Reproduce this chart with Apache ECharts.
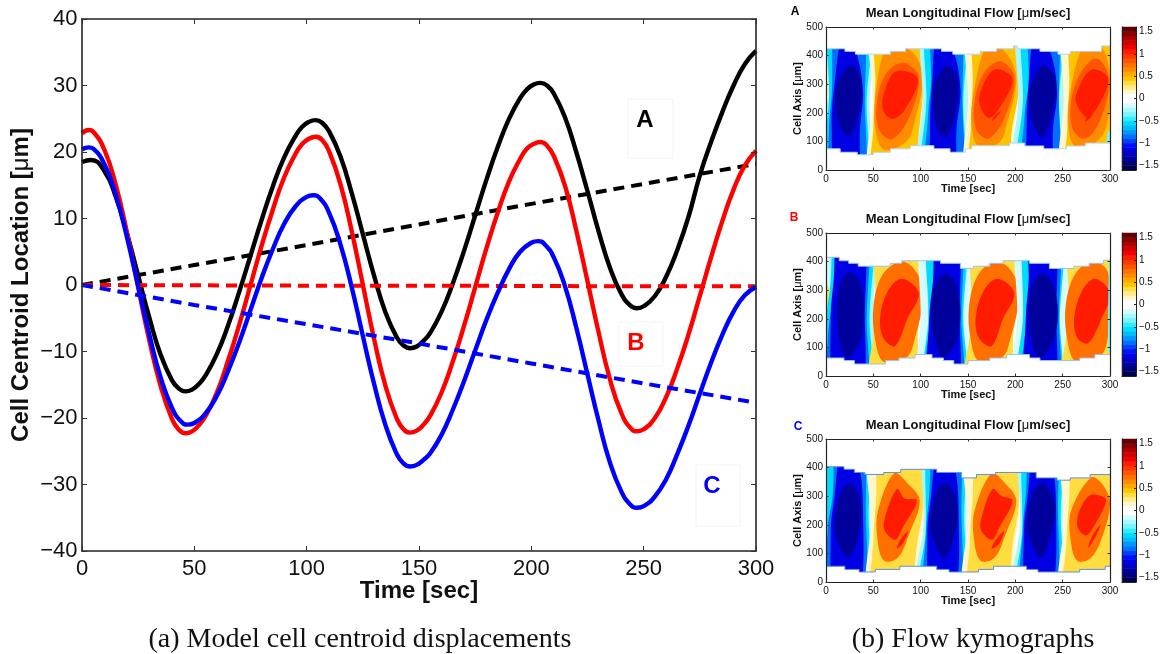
<!DOCTYPE html>
<html><head><meta charset="utf-8">
<style>html,body{margin:0;padding:0;background:#fff}#c{width:1162px;height:654px}</style>
<script src="https://cdn.jsdelivr.net/npm/echarts@6/dist/echarts.min.js"></script>
</head><body><div id="c"></div>
<script>
// ---------- main chart values ----------
const timeTicks=[0,50,100,150,200,250,300];
const locationTicks=[-40,-30,-20,-10,0,10,20,30,40];
const blackSolid=[[0,18.5],[4,18.8],[10,17.1],[15,13.3],[20,7.75],[25,1.4],[30,-4.95],[35,-10.5],[40,-14.3],[43,-15.55],[46,-16],[49,-15.73],[52,-14.9],[55,-13.6],[60,-10.4],[65,-6.1],[70,-1],[75,4.4],[80,9.85],[85,14.9],[90,19.2],[95,22.4],[98,23.8],[101,24.53],[104,24.8],[107,24.37],[110,23.1],[115,19.35],[120,13.9],[125,7.65],[130,1.4],[135,-4.05],[140,-7.8],[143,-9.07],[146,-9.5],[149,-9.24],[152,-8.4],[155,-7.2],[160,-4.05],[165,0.2],[170,5.1],[175,10.45],[180,15.8],[185,20.7],[190,24.95],[195,28.1],[198,29.4],[201,30.14],[204,30.4],[207,30],[210,28.8],[215,25.2],[220,20],[225,14.1],[230,8],[235,2.6],[240,-1.3],[244,-3.08],[247,-3.5],[250,-3.2],[255,-1.65],[260,1.25],[265,5.3],[270,10.3],[275,16.5],[280,21.5],[285,26],[290,30],[295,33.2],[300,35.2]];
const redSolid=[[0,22.8],[3,23.3],[5,23.05],[10,20.3],[15,15.1],[20,7.9],[25,-0.35],[30,-8.4],[35,-15.2],[40,-20.1],[43,-21.73],[46,-22.3],[49,-22],[52,-21.1],[55,-19.7],[60,-16.2],[65,-11.4],[70,-5.95],[75,0],[80,5.95],[85,11.4],[90,16.2],[95,19.7],[98,21.2],[101,22],[104,22.3],[107,21.75],[110,20.1],[115,15.2],[120,8.2],[125,0.05],[130,-8.1],[135,-15.1],[140,-20],[143,-21.65],[146,-22.2],[149,-21.9],[152,-21],[155,-19.65],[160,-16.2],[165,-11.55],[170,-6.2],[175,-0.35],[180,5.5],[185,10.85],[190,15.5],[195,18.95],[198,20.5],[201,21.2],[204,21.5],[207,20.95],[210,19.4],[215,14.9],[220,8.2],[225,0.55],[230,-7.2],[235,-14.2],[240,-19.2],[244,-21.45],[247,-22],[250,-21.7],[255,-20],[260,-16.85],[265,-12.5],[270,-7.4],[275,-1.65],[280,4.15],[285,9.6],[290,14.35],[295,17.95],[300,20.2]];
const blueSolid=[[0,20.4],[3,20.7],[5,20.5],[10,18.15],[15,13.6],[20,7.2],[25,-0.15],[30,-7.5],[35,-13.9],[40,-18.45],[44,-20.5],[47,-21],[50,-20.75],[55,-19.3],[60,-16.7],[65,-12.95],[70,-8.6],[75,-3.75],[80,1.1],[85,5.45],[90,9.2],[95,11.8],[100,13.25],[103,13.5],[106,13],[110,10.85],[115,6.15],[120,-0.25],[125,-7.65],[130,-14.85],[135,-21],[140,-25.35],[143,-26.8],[146,-27.3],[149,-27.05],[152,-26.3],[155,-25.3],[160,-22.55],[165,-18.8],[170,-14.5],[175,-9.85],[180,-5.25],[185,-1.2],[190,2.35],[195,5],[200,6.35],[203,6.6],[206,6.1],[210,4.15],[215,-0.2],[220,-6.4],[225,-13.45],[230,-20.5],[235,-26.7],[240,-31],[244,-33],[247,-33.5],[250,-33.25],[255,-31.8],[260,-29.2],[265,-25.4],[270,-21.1],[275,-16.35],[280,-11.7],[285,-7.5],[290,-4],[295,-1.55],[300,-0.3]];
const blackDashed=[[0,0],[50,3],[100,6],[150,9.1],[200,12.2],[250,15.2],[300,18.2]];
const redDashed=[[0,0],[50,-0.05],[100,-0.1],[150,-0.1],[200,-0.15],[250,-0.2],[300,-0.2]];
const blueDashed=[[0,0],[50,-3],[100,-5.9],[150,-8.8],[200,-11.8],[250,-14.8],[300,-17.7]];

// ---------- colour bar ----------
const barTicks=[-1.5,-1,-0.5,0,0.5,1,1.5];
const barValues=[-1.55,-1.45,-1.35,-1.25,-1.15,-1.05,-0.95,-0.85,-0.75,-0.65,-0.55,-0.45,-0.35,-0.25,-0.15,-0.05,0.05,0.15,0.25,0.35,0.45,0.55,0.65,0.75,0.85,0.95,1.05,1.15,1.25,1.35,1.45,1.55];
const barColors=['#000050','#000078','#00009c','#0000c0','#0000e4','#0010ff','#0040ff','#0070ff','#0098ff','#00bcff','#00dcff','#30ecff','#78f4ff','#a8f8ff','#d4fcff','#ffffff','#ffffff','#fff6cc','#ffeb8c','#ffdc40','#ffc400','#ffa800','#ff8c00','#ff7000','#ff5400','#ff3800','#ff1c00','#f00000','#d00000','#b00000','#880000','#600000'];

// ---------- kymograph A: envelope steps and contour rings [level, [[t,y],...]] ----------
const A_top=[[0,424],[20,424],[20,415],[31,415],[31,405],[68,405],[68,415],[84,415],[84,424],[122,424],[122,415],[134,415],[134,405],[163,405],[163,415],[180,415],[180,424],[198,424],[198,434],[202,434],[202,424],[226,424],[226,415],[245,415],[245,405],[258,405],[258,415],[291,415],[291,434],[300,434]];
const A_bottom=[[0,74],[15,74],[15,62],[33,62],[33,53],[50,53],[50,62],[68,62],[68,74],[89,74],[89,85],[114,85],[114,74],[131,74],[131,62],[147,62],[147,74],[154,74],[154,85],[194,85],[194,94],[210,94],[210,84],[230,84],[230,74],[254,74],[254,84],[274,84],[274,94],[300,94]];
const A_rings=[
[0.15,[[0,560],[4,560],[4,350],[1,240],[0,220]]],
[-0.25,[[2,560],[48,560],[46,240],[44,-60],[0,-60],[0,208],[5,300]]],
[-0.55,[[6,560],[45,560],[43,240],[41,-60],[0,-60],[0,130],[3,240]]],
[-0.85,[[12,560],[38,560],[41,240],[38,-60],[6,-60],[3,130],[6,260]]],
[-1.15,[[18,470],[31,420],[39,280],[36,150],[32,-60],[12,-60],[6,160],[9,300]]],
[-1.35,[[27,365],[36,330],[38,280],[34,190],[25,120],[15,150],[10,230],[11,290],[18,340]]],
[0.15,[[50,560],[104,560],[106,340],[101,240],[96,-60],[47,-60],[49,240]]],
[0.45,[[55,560],[102,560],[103,300],[98,130],[92,-60],[50,-60],[50,150],[52,300]]],
[0.65,[[66,440],[92,410],[102,320],[93,160],[85,100],[62,70],[53,125],[52,250]]],
[0.85,[[82,375],[98,325],[88,185],[70,108],[56,140],[54,240],[64,340]]],
[1.05,[[74,345],[97,320],[83,210],[70,178],[61,205],[60,255]]],
[-0.25,[[104,560],[150,560],[150,240],[147,-60],[99,-60],[102,240]]],
[-0.55,[[108,560],[146,560],[145,240],[143,-60],[103,-60],[106,240]]],
[-0.85,[[113,560],[140,560],[144,240],[141,-60],[107,-60],[108,200],[111,300]]],
[-1.15,[[118,470],[134,420],[142,280],[138,150],[134,-60],[113,-60],[110,160],[112,300]]],
[-1.35,[[128,365],[138,330],[140,285],[136,190],[126,115],[117,150],[113,230],[114,290],[121,340]]],
[0.15,[[152,560],[206,560],[206,300],[198,130],[195,-60],[149,-60],[150,240]]],
[0.45,[[158,560],[200,560],[204,300],[196,130],[191,-60],[152,-60],[153,150],[155,300]]],
[0.65,[[171,440],[190,410],[201,320],[191,160],[184,100],[164,75],[155,125],[155,250]]],
[0.85,[[184,380],[199,325],[189,185],[172,110],[159,140],[157,240],[167,340]]],
[1.05,[[177,350],[197,320],[183,215],[172,182],[164,215],[162,260]]],
[1.05,[[185,205],[180,185],[175,170],[178,190]]],
[-0.25,[[205,560],[252,560],[252,240],[250,-60],[199,-60],[203,240]]],
[-0.55,[[210,560],[248,560],[246,240],[245,-60],[203,-60],[208,240]]],
[-0.85,[[216,560],[242,560],[246,240],[243,-60],[209,-60],[210,200],[214,300]]],
[-1.15,[[221,470],[236,420],[244,280],[240,150],[236,-60],[215,-60],[212,160],[214,300]]],
[-1.35,[[230,365],[241,330],[243,285],[238,190],[229,115],[220,150],[215,230],[216,290],[223,340]]],
[0.15,[[253,560],[300,560],[300,-60],[250,-60],[251,240]]],
[0.45,[[260,560],[300,560],[300,-60],[255,-60],[255,150],[257,300]]],
[0.65,[[273,440],[292,425],[300,320],[297,160],[286,100],[266,75],[257,125],[257,250]]],
[0.85,[[286,390],[299,320],[291,185],[275,110],[261,140],[259,240],[269,340]]],
[1.05,[[280,350],[298,320],[286,215],[275,188],[267,215],[264,260]]],
[1.05,[[286,228],[280,185],[274,170],[277,200]]],
[-0.35,[[298,135],[300,135],[300,92],[297,92]]]
];

// ---------- kymograph B ----------
const B_top=[[0,415],[14,415],[14,403],[24,403],[24,394],[34,394],[34,384],[68,384],[68,394],[80,394],[80,403],[121,403],[121,394],[142,394],[142,376],[156,376],[156,384],[173,384],[173,394],[187,394],[187,403],[215,403],[215,394],[236,394],[236,376],[262,376],[262,384],[278,384],[278,394],[293,394],[293,405],[300,405]];
const B_bottom=[[0,63],[19,63],[19,54],[30,54],[30,42],[63,42],[63,54],[77,54],[77,63],[94,63],[94,75],[112,75],[112,63],[124,63],[124,54],[135,54],[135,42],[150,42],[150,54],[173,54],[173,63],[191,63],[191,75],[215,75],[215,63],[226,63],[226,54],[268,54],[268,63],[284,63],[284,75],[300,75]];
const B_rings=[
[-0.15,[[0,560],[12,560],[8,300],[3,200],[0,180]]],
[0.35,[[0,320],[3,310],[4,280],[2,250],[0,240]]],
[-0.25,[[12,560],[51,560],[50,220],[52,-60],[0,-60],[0,180],[3,260]]],
[-0.55,[[14,560],[48,560],[46,200],[46,-60],[0,-60],[0,190],[4,300]]],
[-0.85,[[16,560],[43,560],[43,200],[41,-60],[4,-60],[2,130],[8,290]]],
[-1.15,[[15,560],[39,560],[41,220],[37,-60],[10,-60],[5,200],[8,330]]],
[-1.35,[[26,362],[36,325],[40,220],[35,115],[23,65],[16,100],[12,200],[13,290],[19,348]]],
[0.35,[[52,560],[102,560],[103,300],[97,150],[96,-60],[47,-60],[50,150],[52,300]]],
[0.75,[[78,400],[93,375],[103,290],[93,120],[85,65],[61,50],[52,125],[50,240],[59,350]]],
[1.05,[[80,340],[98,290],[86,200],[73,105],[61,130],[57,200],[65,295]]],
[-0.15,[[104,560],[152,560],[152,220],[150,-60],[100,-60],[100,200]]],
[-0.55,[[110,560],[146,560],[145,200],[146,-60],[105,-60],[108,200]]],
[-0.85,[[117,560],[142,560],[143,200],[142,-60],[107,-60],[110,200],[113,310]]],
[-1.15,[[120,560],[139,560],[141,220],[138,-60],[110,-60],[109,200],[113,330]]],
[-1.35,[[127,358],[137,325],[142,220],[137,115],[124,65],[117,100],[111,200],[113,290],[120,345]]],
[0.35,[[155,560],[207,560],[206,300],[198,150],[193,-60],[147,-60],[152,150],[153,300]]],
[0.75,[[178,400],[194,375],[204,290],[194,120],[186,65],[162,50],[153,125],[151,240],[160,350]]],
[1.05,[[181,340],[199,290],[187,200],[175,105],[162,130],[158,200],[166,295]]],
[-0.15,[[205,560],[254,560],[254,220],[252,-60],[199,-60],[202,200]]],
[-0.55,[[212,560],[248,560],[247,200],[246,-60],[204,-60],[208,200]]],
[-0.85,[[218,560],[245,560],[246,200],[244,-60],[209,-60],[212,200],[215,310]]],
[-1.15,[[216,560],[241,560],[243,220],[240,-60],[212,-60],[211,200],[214,330]]],
[-1.35,[[228,358],[239,325],[245,220],[239,115],[226,65],[219,100],[214,200],[216,290],[222,345]]],
[0.35,[[256,560],[300,560],[300,-60],[249,-60],[254,150],[256,300]]],
[0.75,[[280,400],[296,375],[300,290],[297,120],[288,65],[264,50],[255,125],[253,240],[262,350]]],
[1.05,[[284,340],[300,290],[291,200],[277,115],[266,130],[262,200],[270,295]]],
[-0.35,[[299,405],[300,405],[300,85],[298,85]]]
];

// ---------- kymograph C ----------
const C_top=[[0,403],[19,403],[19,394],[30,394],[30,383],[41,383],[41,376],[61,376],[61,383],[79,383],[79,394],[117,394],[117,383],[143,383],[143,364],[159,364],[159,376],[179,376],[179,383],[222,383],[222,364],[244,364],[244,356],[258,356],[258,364],[279,364],[279,376],[300,376]];
const C_bottom=[[0,55],[20,55],[20,44],[35,44],[35,35],[52,35],[52,44],[78,44],[78,55],[117,55],[117,44],[130,44],[130,35],[161,35],[161,44],[177,44],[177,55],[212,55],[212,44],[224,44],[224,35],[268,35],[268,44],[295,44],[295,55],[300,55]];
const C_rings=[
[0.15,[[0,560],[5,560],[4,330],[2,240],[0,220]]],
[0.35,[[0,325],[2,310],[2,280],[0,260]]],
[-0.25,[[4,560],[50,560],[47,200],[45,-60],[0,-60],[0,200]]],
[-0.55,[[8,560],[43,560],[45,230],[43,-60],[0,-60],[0,170]]],
[-0.85,[[13,560],[37,560],[42,250],[38,-60],[3,-60],[2,190],[7,300]]],
[-1.15,[[18,500],[33,430],[39,260],[34,-60],[10,-60],[5,170],[9,300]]],
[-1.35,[[27,345],[37,270],[34,160],[24,85],[13,135],[9,210],[17,322]]],
[0.15,[[48,560],[105,560],[107,300],[100,150],[93,-60],[46,-60],[47,200]]],
[0.35,[[58,560],[97,560],[103,290],[97,150],[84,-60],[50,-60],[50,140],[53,300]]],
[0.75,[[72,380],[86,345],[99,285],[88,170],[76,85],[61,75],[54,160],[55,250]]],
[1.05,[[75,325],[83,292],[96,285],[81,190],[73,148],[62,180],[62,222]]],
[1.05,[[87,177],[81,135],[75,117],[79,150]]],
[-0.25,[[106,560],[150,560],[148,200],[146,-60],[97,-60],[103,200]]],
[-0.55,[[111,560],[145,560],[146,230],[144,-60],[100,-60],[105,170]]],
[-0.85,[[116,560],[139,560],[143,250],[139,-60],[106,-60],[106,190],[109,300]]],
[-1.15,[[120,500],[134,430],[140,260],[135,-60],[112,-60],[107,170],[111,300]]],
[-1.35,[[128,345],[139,270],[135,160],[125,85],[115,135],[110,210],[118,322]]],
[0.15,[[150,560],[206,560],[208,300],[200,150],[196,-60],[147,-60],[149,200]]],
[0.35,[[160,560],[199,560],[204,290],[198,150],[186,-60],[152,-60],[152,140],[155,300]]],
[0.75,[[175,380],[189,345],[201,285],[190,170],[178,85],[163,75],[156,160],[157,250]]],
[1.05,[[176,325],[185,302],[197,285],[183,190],[175,148],[164,180],[164,222]]],
[1.05,[[188,177],[183,135],[175,117],[180,150]]],
[-0.25,[[207,560],[252,560],[250,200],[248,-60],[199,-60],[205,200]]],
[-0.55,[[212,560],[247,560],[248,230],[246,-60],[203,-60],[207,170]]],
[-0.85,[[218,560],[241,560],[245,250],[241,-60],[208,-60],[208,190],[211,300]]],
[-1.15,[[222,500],[237,430],[243,260],[237,-60],[213,-60],[209,170],[213,300]]],
[-1.35,[[230,345],[242,270],[237,160],[227,85],[217,135],[212,210],[220,322]]],
[0.15,[[252,560],[300,560],[300,-60],[249,-60],[251,200]]],
[0.35,[[262,560],[300,560],[300,-60],[254,-60],[254,140],[257,300]]],
[0.75,[[280,365],[291,345],[300,280],[293,170],[280,85],[265,75],[258,160],[259,250]]],
[1.05,[[278,302],[290,302],[296,285],[284,200],[275,163],[266,190],[267,242]]],
[1.05,[[290,200],[285,160],[277,120],[281,160]]]
];

// ---------- layout ----------
const panels=[
 {top:27,h:143,rings:A_rings,upper:A_top,lower:A_bottom,edge:'#b8d4f0'},
 {top:233,h:143,rings:B_rings,upper:B_top,lower:B_bottom,edge:'#9cc0ea'},
 {top:439,h:143,rings:C_rings,upper:C_top,lower:C_bottom,edge:'#5f8fe0'}
];
const minus=v=>String(v).replace('-','\u2212');
const levelColor=v=>{let b=0;barValues.forEach((x,i)=>{if(Math.abs(x-v)<Math.abs(barValues[b]-v))b=i});return barColors[b]};
const FONT='"Liberation Sans",Helvetica,Arial,sans-serif';
const SERIF='"Liberation Serif",serif';
const black='#111';

const grid=[{left:82,top:19,width:674,height:532,outerBoundsMode:'none'}];
const xAxis=[],yAxis=[],series=[];
function box(gi,xmin,xmax,xticks,ymin,ymax,yticks,font,tick,xname,yname,nameFont,xgap,ygap,lw,xm,ym){
 const line={show:true,onZero:false,lineStyle:{color:'#222',width:lw}};
 const tk=v=>({show:true,inside:true,length:tick,lineStyle:{color:'#333',width:1},customValues:v});
 xAxis.push({gridIndex:gi,type:'value',min:xmin,max:xmax,z:10,position:'bottom',axisLine:line,axisTick:tk(xticks),splitLine:{show:false},
  axisLabel:{show:true,customValues:xticks,color:black,fontFamily:FONT,fontSize:font,margin:xm,hideOverlap:false,showMinLabel:true,showMaxLabel:true},
  name:xname,nameLocation:'middle',nameGap:xgap,nameMoveOverlap:false,nameTextStyle:{color:black,fontFamily:FONT,fontWeight:'bold',fontSize:nameFont}});
 xAxis.push({gridIndex:gi,type:'value',min:xmin,max:xmax,z:10,position:'top',axisLine:line,axisTick:tk(xticks),axisLabel:{show:false},splitLine:{show:false}});
 yAxis.push({gridIndex:gi,type:'value',min:ymin,max:ymax,z:10,position:'left',axisLine:line,axisTick:tk(yticks),splitLine:{show:false},
  axisLabel:{show:true,customValues:yticks,formatter:minus,color:black,fontFamily:FONT,fontSize:font,margin:ym,showMinLabel:true,showMaxLabel:true},
  name:yname,nameLocation:'middle',nameGap:ygap,nameMoveOverlap:false,nameTextStyle:{color:black,fontFamily:FONT,fontWeight:'bold',fontSize:nameFont,
   rich:{m:{fontFamily:FONT,fontWeight:'normal',fontSize:nameFont,color:black}}}});
 yAxis.push({gridIndex:gi,type:'value',min:ymin,max:ymax,z:10,position:'right',axisLine:line,axisTick:tk(yticks),axisLabel:{show:false},splitLine:{show:false}});
}
box(0,0,300,timeTicks,-40,40,locationTicks,22,5,'Time [sec]','Cell Centroid Location [{m|\u03bc}m]',24,28,49,1.6,7,4.5);
function ln(name,data,color,dashed){
 series.push({name,type:'line',xAxisIndex:0,yAxisIndex:0,data,symbol:'none',smooth:dashed?false:0.5,silent:true,z:5,clip:false,
  lineStyle:{color,width:dashed?4:4.4,type:dashed?[11,7]:'solid',cap:'butt'}});
}
ln('A solid',blackSolid,'#000',false);ln('A drift',blackDashed,'#000',true);
ln('B solid',redSolid,'#ff0000',false);ln('B drift',redDashed,'#ff0000',true);
ln('C solid',blueSolid,'#0000ff',false);ln('C drift',blueDashed,'#0000ff',true);

panels.forEach((p,k)=>{
 const gi=grid.length;
 grid.push({left:826,top:p.top,width:284,height:p.h,outerBoundsMode:'none'});
 const xi=xAxis.length,yi=yAxis.length;
 box(gi,0,300,timeTicks,0,500,[0,100,200,300,400,500],10,2.5,'Time [sec]','Cell Axis [{m|\u03bc}m]',11,13,23,1.2,4,3);
 const rings=p.rings;
 series.push({name:'contours '+'ABC'[k],type:'custom',xAxisIndex:xi,yAxisIndex:yi,clip:true,silent:true,z:2,
  data:rings.map((r,i)=>[i,r[0]]),
  renderItem:(params,api)=>{
   const r=rings[api.value(0)];
   return {type:'polygon',shape:{points:r[1].map(q=>api.coord(q)),smooth:0.35},style:{fill:levelColor(r[0])}};
  }});
 const masks=[p.upper.concat([[300,500],[0,500]]),p.lower.concat([[300,0],[0,0]])];
 series.push({name:'outside cell '+'ABC'[k],type:'custom',xAxisIndex:xi,yAxisIndex:yi,clip:true,silent:true,z:3,
  data:masks.map((m,i)=>[i]),
  renderItem:(params,api)=>{
   const i=api.value(0),n=i?p.lower:p.upper;
   return {type:'group',children:[
    {type:'polygon',shape:{points:masks[i].map(q=>api.coord(q))},style:{fill:'#fff'}},
    {type:'polyline',shape:{points:n.map(q=>api.coord(q))},style:{fill:null,stroke:p.edge,lineWidth:1}}
   ]};
  }});
 // colour bar
 const bi=grid.length;
 grid.push({left:1122,top:p.top,width:14,height:p.h,outerBoundsMode:'none'});
 const bx=xAxis.length,by=yAxis.length;
 xAxis.push({gridIndex:bi,type:'category',data:['v'],position:'bottom',axisLine:{show:true,onZero:false,lineStyle:{color:'#222',width:1}},axisTick:{show:false},axisLabel:{show:false},splitLine:{show:false},z:10});
 yAxis.push({gridIndex:bi,type:'category',data:barValues.map(String),axisLine:{show:true,onZero:false,lineStyle:{color:'#222',width:1}},axisTick:{show:false},axisLabel:{show:false},splitLine:{show:false},z:10});
 yAxis.push({gridIndex:bi,type:'value',min:-1.6,max:1.6,position:'right',z:10,splitLine:{show:false},
  axisLine:{show:true,onZero:false,lineStyle:{color:'#222',width:1}},
  axisTick:{show:true,inside:true,length:2,customValues:barTicks,lineStyle:{color:'#222',width:1}},
  axisLabel:{show:true,customValues:barTicks,formatter:minus,color:black,fontFamily:FONT,fontSize:10,margin:3,showMinLabel:true,showMaxLabel:true}});
 series.push({name:'colour bar '+'ABC'[k],type:'heatmap',xAxisIndex:bx,yAxisIndex:by,silent:true,z:2,
  data:barValues.map((v,i)=>({value:[0,i,v],itemStyle:{color:barColors[i]}}))});
});

const T=(text,left,top,size,color,family,weight,align)=>({text,left,top,textAlign:align||'center',textVerticalAlign:'middle',
 textStyle:{color,fontFamily:family,fontWeight:weight,fontSize:size,rich:{m:{fontFamily:family,fontWeight:'normal',fontSize:size,color}}},padding:0});
const title=[
 T('A',645,120,24,'#000',FONT,'bold'),T('B',636,343,24,'#ff0000',FONT,'bold'),T('C',712,486,24,'#0000ff',FONT,'bold'),
 T('A',795,12,12,'#000',FONT,'bold'),T('B',794,218,12,'#ff0000',FONT,'bold'),T('C',798,427,12,'#0000ff',FONT,'bold'),
 T('Mean Longitudinal Flow [{m|\u03bc}m/sec]',968,13,13,black,FONT,'bold'),
 T('Mean Longitudinal Flow [{m|\u03bc}m/sec]',968,219,13,black,FONT,'bold'),
 T('Mean Longitudinal Flow [{m|\u03bc}m/sec]',968,425,13,black,FONT,'bold'),
 T('(a) Model cell centroid displacements',360,640,28,'#111',SERIF,'normal'),
 T('(b) Flow kymographs',973,640,28,'#111',SERIF,'normal')
];
const noteBox=(x,y,width,height)=>({type:'rect',z:1,silent:true,shape:{x,y,width,height},style:{fill:null,stroke:'#f3f3f3',lineWidth:1}});
const chart=echarts.init(document.getElementById('c'));
chart.setOption({animation:false,backgroundColor:'#fff',tooltip:{show:false},title,grid,xAxis,yAxis,series,
 graphic:[noteBox(628,99,45,59),noteBox(619,322,44,44),noteBox(696,465,44,61)]});
</script></body></html>
